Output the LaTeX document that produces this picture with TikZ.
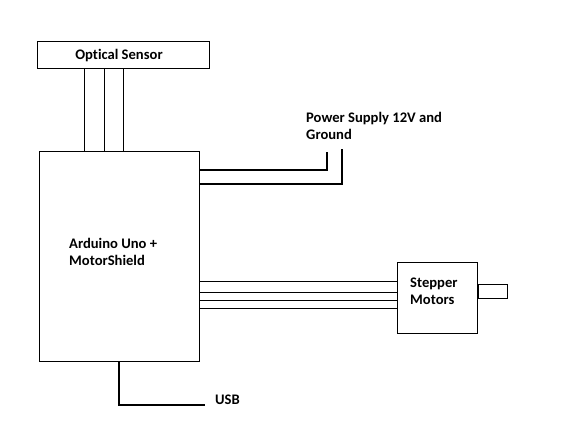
\documentclass[tikz,border=0pt]{standalone}
\usepackage{fontspec}
\setmainfont{Carlito}[Ligatures=NoCommon]
\begin{document}
\begin{tikzpicture}[x=1pt,y=-1pt,
  box/.style={draw,line width=0.9pt,inner sep=0pt,anchor=north west},
  thin/.style={line width=0.9pt},
  thickw/.style={line width=2.8pt},
  lbl/.style={font=\bfseries\fontsize{14.6}{17}\selectfont,align=left,inner sep=0pt}]
\useasboundingbox (0,0) rectangle (561,423);
\node[box,minimum width=172pt,minimum height=27pt] (opt) at (37,41) {};
\node[lbl,anchor=base] (optl) at (119,59) {Optical Sensor};
\node[box,minimum width=160pt,minimum height=210pt] (ard) at (39,151) {};
\node[lbl,anchor=base west] (ardl) at (69,265) {Arduino Uno +\\MotorShield};
\node[box,minimum width=80pt,minimum height=71pt] (step) at (397,262) {};
\node[lbl,anchor=base west] (stepl) at (410,304) {Stepper\\Motors};
\node[box,minimum width=29pt,minimum height=14pt] (shaft) at (step.east |- 0,284) {};
\node[lbl,anchor=base west] (pwr) at (306,139) {Power Supply 12V and\\Ground};
\node[lbl,anchor=base west] (usb) at (215,404) {USB};
\foreach \x in {84,104,123} \draw[thin] (opt.south -| \x,0) -- (ard.north -| \x,0);
\coordinate (p1) at (327,152);
\coordinate (p2) at (342,149);
\draw[thickw] (ard.east |- 0,170) -| (p1);
\draw[thickw] (ard.east |- 0,184) -| (p2);
\foreach \y in {281,292,300,308} \draw[thin] (ard.east |- 0,\y) -- (step.west |- 0,\y);
\coordinate (u) at (205,405);
\draw[thickw] (ard.south -| 119,0) |- (u);
\end{tikzpicture}
\end{document}
